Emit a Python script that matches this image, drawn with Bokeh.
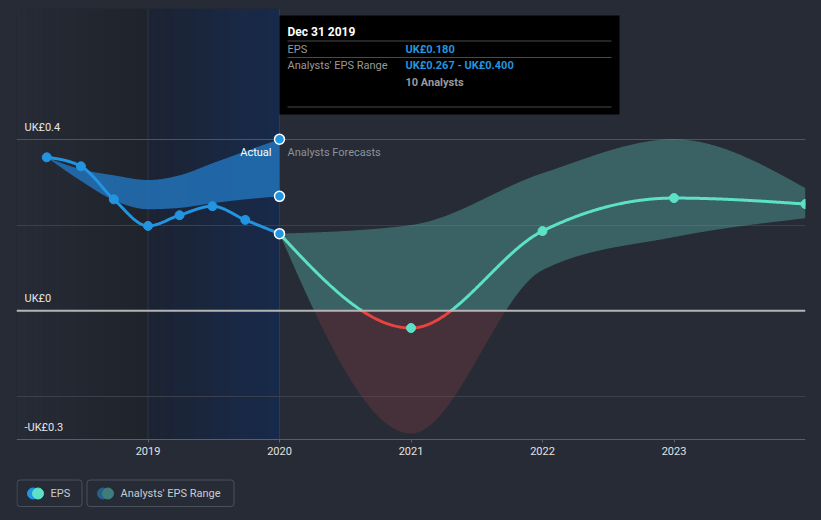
import numpy as np
from bokeh.plotting import figure
from bokeh.models import Range1d, FixedTicker, Grid, Span, Quad
from bokeh.core.properties import value
from bokeh.embed import file_html
from bokeh.resources import INLINE

# ---------------- data ----------------
past_dates = [2018.23, 2018.49, 2018.74, 2019.0, 2019.24, 2019.49, 2019.74, 2020.0]
past_eps = [0.358, 0.337, 0.260, 0.198, 0.223, 0.244, 0.212, 0.180]
past_range_high = [0.358, 0.330, 0.316, 0.305, 0.316, 0.344, 0.372, 0.400]
past_range_low = [0.358, 0.303, 0.258, 0.237, 0.240, 0.251, 0.260, 0.267]

fc_dates = [2020.0, 2021.0, 2022.0, 2023.0, 2024.0]
fc_eps = [0.180, -0.040, 0.186, 0.263, 0.249]
fc_high = [0.180, 0.200, 0.321, 0.400, 0.286]
fc_low = [0.180, -0.286, 0.095, 0.172, 0.216]

year_ticks = [2019, 2020, 2021, 2022, 2023]
year_labels = ["2019", "2020", "2021", "2022", "2023"]
y_label_values = [0.4, 0.0, -0.3]
y_labels = ["UK£0.4", "UK£0", "-UK£0.3"]
grid_values = [0.2, -0.2]

tooltip_title = "Dec 31 2019"
tooltip_eps = "UK£0.180"
tooltip_range = "UK£0.267 - UK£0.400"
tooltip_analysts = "10 Analysts"
legend_labels = ["EPS", "Analysts' EPS Range"]

# ---------------- style / layout ----------------
BG = "#262b36"
BLUE = "#2394df"
TEAL = "#5ce1c6"
RED = "#e5443f"
FONT = value("Roboto")
PAGE_W, PAGE_H = 821, 520
X0, X1 = 2018.0, 2024.0
FRAME_L, FRAME_W = 16, 789
FRAME_T = 8
AXIS_PY = 439                     # pixel row of the x axis
Y_AX = y_label_values[-1]         # axis sits at the lowest labelled value
Y1 = 0.705
SCALE = (AXIS_PY - FRAME_T) / (Y1 - Y_AX)        # px per unit
Y0 = Y_AX - (PAGE_H - AXIS_PY) / SCALE           # frame reaches page bottom


def px2x(px):
    return X0 + (px - FRAME_L) * (X1 - X0) / FRAME_W


def py2y(py):
    return Y_AX + (AXIS_PY - py) / SCALE


def monotone(xs, ys, n=60):
    """Sample a monotone-x cubic (as d3.curveMonotoneX) through the points."""
    xs = np.asarray(xs, float)
    ys = np.asarray(ys, float)
    h = np.diff(xs)
    s = np.diff(ys) / h
    k = len(xs)
    m = np.zeros(k)
    sgn = lambda v: -1.0 if v < 0 else 1.0
    for i in range(1, k - 1):
        s0, s1, h0, h1 = s[i - 1], s[i], h[i - 1], h[i]
        p_ = (s0 * h1 + s1 * h0) / (h0 + h1)
        m[i] = (sgn(s0) + sgn(s1)) * min(abs(s0), abs(s1), 0.5 * abs(p_))
    if k > 2:
        m[0] = (3 * s[0] - m[1]) / 2
        m[-1] = (3 * s[-1] - m[-2]) / 2
    else:
        m[:] = s[0]
    ox, oy = [], []
    for i in range(k - 1):
        t = np.linspace(0, 1, n, endpoint=False)
        h00 = 2 * t**3 - 3 * t**2 + 1
        h10 = t**3 - 2 * t**2 + t
        h01 = -2 * t**3 + 3 * t**2
        h11 = t**3 - t**2
        ox.extend(xs[i] + t * h[i])
        oy.extend(h00 * ys[i] + h10 * h[i] * m[i] + h01 * ys[i + 1] + h11 * h[i] * m[i + 1])
    ox.append(xs[-1])
    oy.append(ys[-1])
    return np.array(ox), np.array(oy)


def add_zero_crossings(x, y):
    nx, ny = [x[0]], [y[0]]
    for i in range(1, len(x)):
        if (y[i - 1] < 0) != (y[i] < 0):
            t = y[i - 1] / (y[i - 1] - y[i])
            nx.append(x[i - 1] + t * (x[i] - x[i - 1]))
            ny.append(0.0)
        nx.append(x[i])
        ny.append(y[i])
    return np.array(nx), np.array(ny)


def lerp_hex(c0, c1, t):
    a = [int(c0[i:i + 2], 16) for i in (1, 3, 5)]
    b = [int(c1[i:i + 2], 16) for i in (1, 3, 5)]
    return "#%02x%02x%02x" % tuple(int(round(a[j] + (b[j] - a[j]) * t)) for j in range(3))


p = figure(width=PAGE_W, height=PAGE_H, output_backend="svg", toolbar_location=None,
           x_range=Range1d(X0, X1), y_range=Range1d(Y0, Y1),
           min_border_left=FRAME_L, min_border_right=PAGE_W - FRAME_L - FRAME_W,
           min_border_top=FRAME_T, min_border_bottom=0,
           background_fill_color=BG, border_fill_color=BG, outline_line_color=None)

# ---- background gradient regions (past) ----
nstrip = 24
edges = np.linspace(X0, year_ticks[0], nstrip + 1)
p.quad(left=edges[:-1], right=edges[1:], top=Y1, bottom=Y_AX, line_color=None,
       fill_color=[lerp_hex("#262b36", "#1f232b", i / (nstrip - 1)) for i in range(nstrip)],
       level="image")
edges = np.linspace(year_ticks[0], year_ticks[1], nstrip + 1)
p.quad(left=edges[:-1], right=edges[1:], top=Y1, bottom=Y_AX, line_color=None,
       fill_color=[lerp_hex("#1c2333", "#172a4b", i / (nstrip - 1)) for i in range(nstrip)],
       level="image")

# ---- grid ----
p.xgrid.visible = False
p.ygrid.ticker = FixedTicker(ticks=grid_values)
p.ygrid.grid_line_color = "#3a404c"
p.add_layout(Grid(dimension=1, ticker=FixedTicker(ticks=[y_label_values[0]]),
                  grid_line_color="#4f5560"))
p.segment(x0=year_ticks[:2], x1=year_ticks[:2], y0=[Y_AX] * 2, y1=[Y1] * 2,
          line_color=["#2a3449", "#1f3d6c"], line_width=1, level="underlay")

# ---- axes ----
p.yaxis.visible = False
xa = p.xaxis[0]
xa.fixed_location = Y_AX
xa.ticker = FixedTicker(ticks=year_ticks)
xa.major_label_overrides = {t: l for t, l in zip(year_ticks, year_labels)}
xa.axis_line_color = "#5a606b"
xa.major_tick_line_color = "#5a606b"
xa.major_tick_out = 3
xa.major_tick_in = 0
xa.minor_tick_line_color = None
xa.major_label_standoff = 4
xa.major_label_text_color = "#e2e2e2"
xa.major_label_text_font = "Roboto"
xa.major_label_text_font_size = "11px"

# ---- past range band + EPS ----
bx, bhi = monotone(past_dates, past_range_high)
_, blo = monotone(past_dates, past_range_low)
p.varea(x=bx, y1=blo, y2=bhi, fill_color="#2272b9", fill_alpha=0.85)

lx, ly = monotone(past_dates, past_eps)
p.line(lx, ly, line_color=BLUE, line_width=3)
p.scatter(past_dates[:-1], past_eps[:-1], size=9, color=BLUE)

# ---- forecast band ----
fx, fhi = monotone(fc_dates, fc_high, n=120)
_, flo = monotone(fc_dates, fc_low, n=120)
p.varea(x=fx, y1=np.maximum(flo, 0), y2=np.maximum(fhi, 0), fill_color="#65d1bf", fill_alpha=0.33)
p.varea(x=fx, y1=np.minimum(flo, 0), y2=np.minimum(fhi, 0), fill_color="#c6444a", fill_alpha=0.2)

# ---- forecast EPS line ----
ex, ey = monotone(fc_dates, fc_eps, n=120)
ex, ey = add_zero_crossings(ex, ey)
pos = np.where(ey >= -1e-12, ey, np.nan)
neg = np.where(ey <= 1e-12, ey, np.nan)
p.line(ex, pos, line_color=TEAL, line_width=3)
p.line(ex, neg, line_color=RED, line_width=3)
p.scatter(fc_dates[1:], fc_eps[1:], size=9, color=TEAL)

# zero line
p.add_layout(Span(location=0, dimension="width", line_color="#b5b5b5", line_width=2))

# markers at the hovered date
p.scatter([past_dates[-1]] * 3, [past_range_high[-1], past_range_low[-1], past_eps[-1]],
          size=10, fill_color=BLUE, line_color="white", line_width=1.5)

# ---- y labels inside plot ----
p.text(x=[X0] * len(y_labels), y=y_label_values, text=y_labels, x_offset=8, y_offset=-12,
       text_baseline="middle", text_align="left", text_color="#e6e6e6",
       text_font=FONT, text_font_size="11px")

# ---- Actual / Analysts Forecasts ----
p.text(x=[past_dates[-1]], y=[py2y(151.5)], text=["Actual"], x_offset=-8,
       text_align="right", text_baseline="middle", text_color="#ffffff",
       text_font=FONT, text_font_size="11px")
p.text(x=[past_dates[-1]], y=[py2y(151.5)], text=["Analysts Forecasts"], x_offset=8,
       text_align="left", text_baseline="middle", text_color="#8e929a",
       text_font=FONT, text_font_size="11px")

# ---- tooltip ----
p.quad(left=px2x(279), right=px2x(619), top=py2y(15), bottom=py2y(114),
       fill_color="#000000", line_color=None)
sep_y = [py2y(40.5), py2y(57), py2y(106.5)]
p.segment(x0=[px2x(287)] * 3, x1=[px2x(611)] * 3, y0=sep_y, y1=sep_y,
          line_color="#4a4a4a", line_width=1)
p.text(x=[px2x(287)], y=[py2y(31)], text=[tooltip_title], text_align="left",
       text_baseline="middle", text_color="#ffffff", text_font=FONT,
       text_font_size="12px", text_font_style="bold")
p.text(x=[px2x(287)] * 2, y=[py2y(48.5), py2y(65)], text=["EPS", "Analysts' EPS Range"],
       text_align="left", text_baseline="middle", text_color="#9a9a9a",
       text_font=FONT, text_font_size="11px")
p.text(x=[px2x(405)] * 2, y=[py2y(48.5), py2y(65)], text=[tooltip_eps, tooltip_range],
       text_align="left", text_baseline="middle", text_color=BLUE,
       text_font=FONT, text_font_size="11px", text_font_style="bold")
p.text(x=[px2x(405)], y=[py2y(81.5)], text=[tooltip_analysts], text_align="left",
       text_baseline="middle", text_color="#9a9a9a", text_font=FONT,
       text_font_size="11px", text_font_style="bold")

# ---- legend (below the axis, inside the frame) ----
box_kw = dict(fill_color=BG, line_color="#4b515c", line_width=1)
if "border_radius" in Quad.properties():
    box_kw["border_radius"] = 3
p.quad(left=[px2x(16.5), px2x(86.5)], right=[px2x(81.5), px2x(233.5)],
       top=py2y(479.5), bottom=py2y(506), **box_kw)
p.scatter([px2x(32.5), px2x(102.5)], [py2y(493)] * 2, size=11, color=[BLUE, "#2a5f8a"])
p.scatter([px2x(37.5), px2x(107.5)], [py2y(493)] * 2, size=11, color=[TEAL, "#3e7d79"])
p.text(x=[px2x(50), px2x(120)], y=[py2y(493)] * 2, text=legend_labels, text_align="left",
       text_baseline="middle", text_color="#c8ccd2", text_font=FONT, text_font_size="11px")

template = """{% block postamble %}<style>html, body { background-color: #262b36; }</style>{% endblock %}"""
open("out.html", "w").write(file_html(p, INLINE, template=template))
